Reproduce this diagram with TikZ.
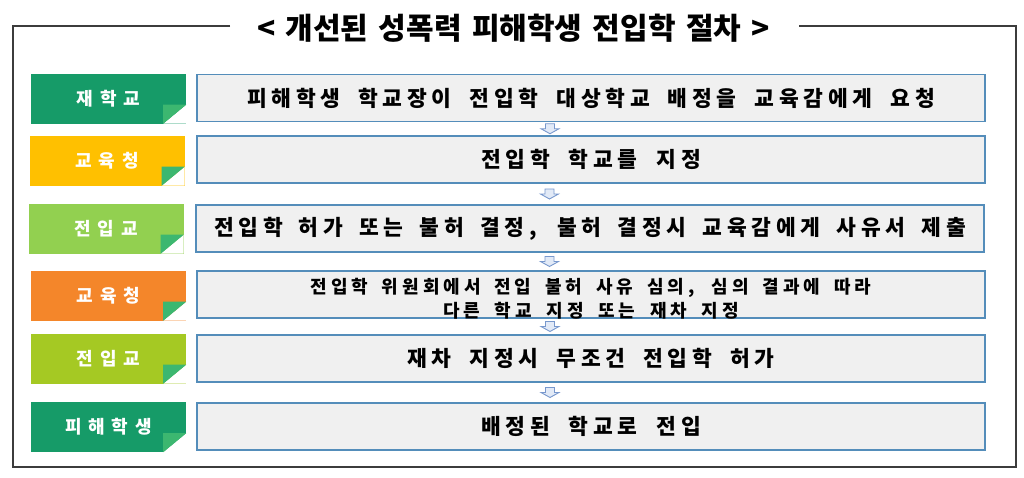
\documentclass[tikz,border=0pt]{standalone}
\usepackage{fontspec}
\setmainfont{Noto Sans CJK KR}
\newfontfamily\kr{Noto Sans CJK KR}[LetterSpace=22]
\newfontfamily\krlab{Noto Sans CJK KR}[LetterSpace=38]
\newfontfamily\krtitle{Noto Sans CJK KR}
\usetikzlibrary{calc}
\definecolor{gdark}{RGB}{22,155,104}
\definecolor{gamber}{RGB}{255,192,0}
\definecolor{glight}{RGB}{146,208,80}
\definecolor{gorange}{RGB}{244,134,42}
\definecolor{glime}{RGB}{165,201,35}
\definecolor{gfold}{RGB}{60,183,112}
\definecolor{boxfill}{RGB}{240,240,240}
\definecolor{boxline}{RGB}{84,141,186}
\definecolor{arrline}{RGB}{120,152,205}
\definecolor{arrfill}{RGB}{226,234,247}
\definecolor{framecol}{RGB}{60,60,60}
\newcommand\fitline[2]{\hbox to #1{\spaceskip=0pt plus 1fil\relax #2}}
\tikzset{
  tagbox/.style={minimum width=155pt, minimum height=50pt, inner sep=0pt,
    text=white, font=\krlab\bfseries\fontsize{18}{20}\selectfont},
  stepbox/.style={minimum width=788pt, minimum height=47pt, inner sep=0pt,
    fill=boxfill, draw=boxline, line width=1.8pt,
    font=\kr\bfseries\fontsize{21.5}{24}\selectfont},
  dnarrow/.pic={
    \draw[draw=arrline, fill=arrfill, line width=0.9pt, line join=miter]
      (-4.5,-5) -- (4.5,-5) -- (4.5,0) -- (9,0) -- (0,5) -- (-9,0) -- (-4.5,0) -- cycle;
  }
}
\newcommand\foldcorner[1]{%
  \fill[white] (#1.south east) -- ++(-23,0) -- ++(23,-19) -- cycle;
  \fill[gfold] ($(#1.south east)+(-23,0)$) -- ++(0,-19) -- ++(23,0) -- cycle;
}
\begin{document}
\begin{tikzpicture}[x=1pt,y=-1pt]
\useasboundingbox (0,0) rectangle (1024,477);
\fill[white] (0,0) rectangle (1024,477);

% title and frame
\node[font=\krtitle\bfseries\fontsize{30}{32}\selectfont, inner sep=0pt] (title) at (513.5,28)
  {\fitline{513pt}{< 개선된 성폭력 피해학생 전입학 절차 >}};
\coordinate (fl) at (230,26);
\coordinate (fr) at (799,26);
\draw[framecol, line width=1.2pt] (fl) -- (13,26) -- (13,467) -- (1016,467) -- (1016,26) -- (fr);

% labels
\node[tagbox, fill=gdark]   (l1) at (108.5,98.5)  {재학교};
\node[tagbox, fill=gamber]  (l2) at (107,160.5)   {교육청};
\node[tagbox, fill=glight]  (l3) at (106,228.5)   {전입교};
\node[tagbox, fill=gorange] (l4) at (108.5,295.5) {교육청};
\node[tagbox, fill=glime]   (l5) at (108.5,358.5) {전입교};
\node[tagbox, fill=gdark]   (l6) at (108.5,427)   {피해학생};
\foreach \n in {l1,l2,l3,l4,l5,l6} {\foldcorner{\n}}

% step boxes
\node[stepbox] (c1) at (591,98)    {\fitline{688pt}{피해학생 학교장이 전입학 대상학교 배정을 교육감에게 요청}};
\node[stepbox] (c2) at (591,159.5) {\fitline{220pt}{전입학 학교를 지정}};
\node[stepbox] (c3) at (590,228.5) {\fitline{752pt}{전입학 허가 또는 불허 결정, 불허 결정시 교육감에게 사유서 제출}};
\node[stepbox, font=\kr\bfseries\fontsize{18}{23}\selectfont] (c4) at (591,294.5)
  {\raisebox{-11pt}[0pt][0pt]{\begin{tabular}{@{}c@{}}\fitline{561pt}{전입학 위원회에서 전입 불허 사유 심의, 심의 결과에 따라}\\[1pt]\fitline{296pt}{다른 학교 지정 또는 재차 지정}\end{tabular}}};
\node[stepbox] (c5) at (591,358.5) {\fitline{367pt}{재차 지정시 무조건 전입학 허가}};
\node[stepbox] (c6) at (591,426.5) {\fitline{220pt}{배정된 학교로 전입}};

% arrows between steps
\pic at ($(c1.south)!0.5!(c2.north)+(-41,0)$) {dnarrow};
\pic at ($(c2.south)!0.5!(c3.north)+(-41,0)$) {dnarrow};
\pic at ($(c3.south)!0.5!(c4.north)+(-41,0)$) {dnarrow};
\pic at ($(c4.south)!0.5!(c5.north)+(-41,0)$) {dnarrow};
\pic at ($(c5.south)!0.5!(c6.north)+(-41,0)$) {dnarrow};
\end{tikzpicture}
\end{document}
